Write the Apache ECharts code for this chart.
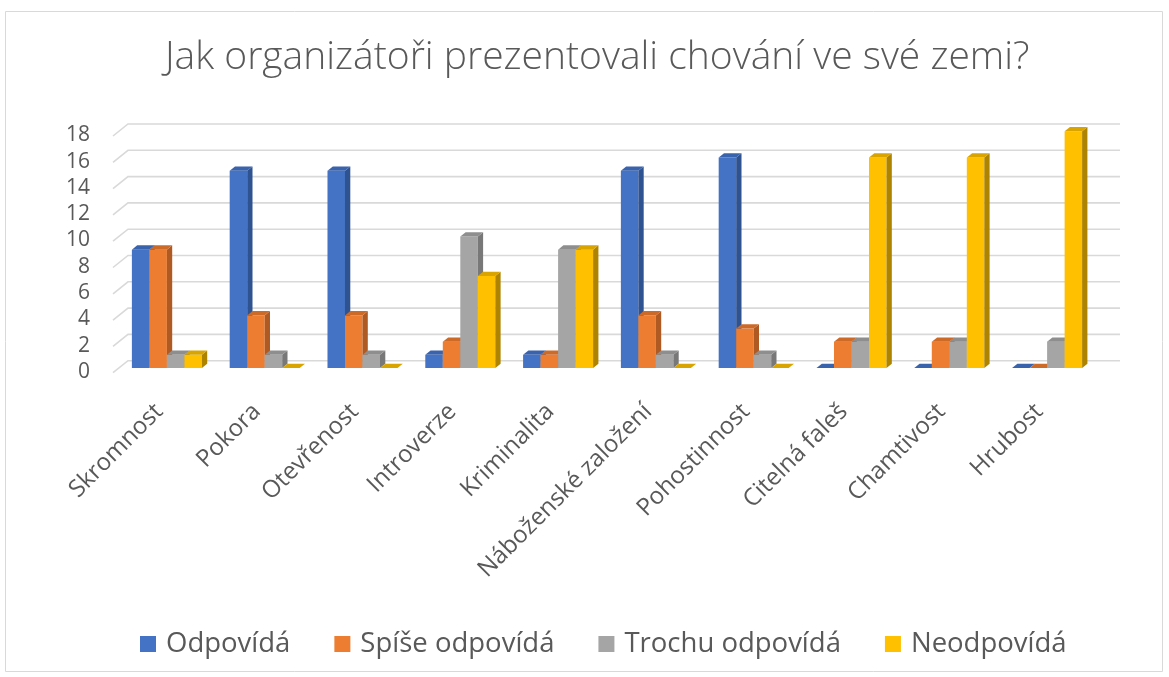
<!DOCTYPE html>
<html>
<head>
<meta charset="utf-8">
<script src="https://cdn.jsdelivr.net/npm/echarts@6/dist/echarts.min.js"></script>
<style>
  html, body { margin: 0; padding: 0; background: #fff; }
  #chart { width: 1169px; height: 677px; }
</style>
</head>
<body>
<div id="chart"></div>
<script>
var categories = ['Skromnost', 'Pokora', 'Otevřenost', 'Introverze', 'Kriminalita',
  'Náboženské založení', 'Pohostinnost', 'Citelná faleš', 'Chamtivost', 'Hrubost'];
var seriesNames = ['Odpovídá', 'Spíše odpovídá', 'Trochu odpovídá', 'Neodpovídá'];
var odpovida       = [9, 15, 15, 1, 1, 15, 16, 0, 0, 0];
var spiseOdpovida  = [9, 4, 4, 2, 1, 4, 3, 2, 2, 0];
var trochuOdpovida = [1, 1, 1, 10, 9, 1, 1, 2, 2, 2];
var neodpovida     = [1, 0, 0, 7, 9, 0, 0, 16, 16, 18];
var yTicks = [0, 2, 4, 6, 8, 10, 12, 14, 16, 18];

var allValues = [odpovida, spiseOdpovida, trochuOdpovida, neodpovida];
// front, side, top shades
var colors = [
  ['#4472C4', '#2F5290', '#3A63AD'],
  ['#ED7D31', '#AE5A22', '#CD6A28'],
  ['#A5A5A5', '#787878', '#8E8E8E'],
  ['#FFC000', '#AE8300', '#D9A300']
];
var DX = 5.3, DY = -4.3;

var chart = echarts.init(document.getElementById('chart'));

function barRenderer(idx) {
  return function (params, api) {
    var k = api.value(0);
    var top = api.coord([k, api.value(1)]);
    var base = api.coord([k, 0]);
    var band = api.size([1, 0])[0];
    var bw = band * 0.179;
    var x0 = top[0] - 2 * bw + idx * bw;
    var x1 = x0 + bw;
    var c = colors[idx];
    return {
      type: 'group',
      children: [
        { type: 'rect', shape: { x: x0, y: top[1], width: bw, height: base[1] - top[1] },
          style: { fill: c[0] } },
        { type: 'polygon', shape: { points: [[x1, top[1]], [x1 + DX, top[1] + DY], [x1 + DX, base[1] + DY], [x1, base[1]]] },
          style: { fill: c[1] } },
        { type: 'polygon', shape: { points: [[x0, top[1]], [x0 + DX, top[1] + DY], [x1 + DX, top[1] + DY], [x1, top[1]]] },
          style: { fill: c[2] } }
      ]
    };
  };
}

var series = [{
  type: 'custom',
  silent: true,
  z: 1,
  data: yTicks.map(function (v) { return [0, v]; }),
  renderItem: function (params, api) {
    var y = api.coord([0, api.value(1)])[1];
    var cs = params.coordSys;
    return {
      type: 'polyline',
      shape: { points: [[cs.x - 5, y + 4.7], [cs.x + 10, y - 7.3], [cs.x + cs.width + 24, y - 7.3]] },
      style: { stroke: '#D9D9D9', lineWidth: 1.6, fill: null }
    };
  }
}];

allValues.forEach(function (vals, i) {
  series.push({
    name: seriesNames[i],
    type: 'custom',
    z: 2,
    itemStyle: { color: colors[i][0] },
    data: vals.map(function (v, k) { return [k, v]; }),
    renderItem: barRenderer(i)
  });
});

var option = {
  animation: false,
  title: {
    text: 'Jak organizátoři prezentovali chování ve své zemi?',
    left: 165,
    top: 38,
    padding: 0,
    textStyle: { fontFamily: 'Open Sans', fontWeight: 300, fontSize: 39, color: '#595959' }
  },
  legend: {
    data: seriesNames,
    top: 625,
    left: 135,
    icon: 'rect',
    itemWidth: 16,
    itemHeight: 16,
    itemGap: 44,
    textStyle: { fontFamily: 'Open Sans', fontSize: 27.5, color: '#595959', padding: [0, 0, 0, 5] }
  },
  grid: [
    { left: 118, right: 73, top: 131.3, bottom: 309 },
    // label grid for the value axis, sits on the front edge of the floor
    { left: 118, right: 73, top: 135.3, bottom: 305 }
  ],
  xAxis: [{
    type: 'category',
    data: categories,
    axisLine: { show: false },
    axisTick: { show: false },
    axisLabel: { interval: 0, rotate: 45, margin: 32, padding: [0, 11, 0, 0],
      fontFamily: 'Open Sans', fontSize: 24, color: '#595959' }
  }, {
    type: 'category',
    gridIndex: 1,
    data: categories,
    show: false
  }],
  yAxis: [{
    type: 'value',
    min: 0,
    max: 18,
    interval: 2,
    axisLine: { show: false },
    axisTick: { show: false },
    splitLine: { show: false },
    axisLabel: { show: false }
  }, {
    type: 'value',
    gridIndex: 1,
    min: 0,
    max: 18,
    interval: 2,
    axisLine: { show: false },
    axisTick: { show: false },
    splitLine: { show: false },
    axisLabel: { margin: 28, fontFamily: 'Open Sans', fontSize: 21, color: '#595959' }
  }],
  graphic: [{
    type: 'rect',
    shape: { x: 5.5, y: 11.5, width: 1157, height: 660 },
    style: { fill: null, stroke: '#D9D9D9', lineWidth: 1 },
    silent: true
  }],
  series: series
};

chart.setOption(option);
</script>
</body>
</html>
